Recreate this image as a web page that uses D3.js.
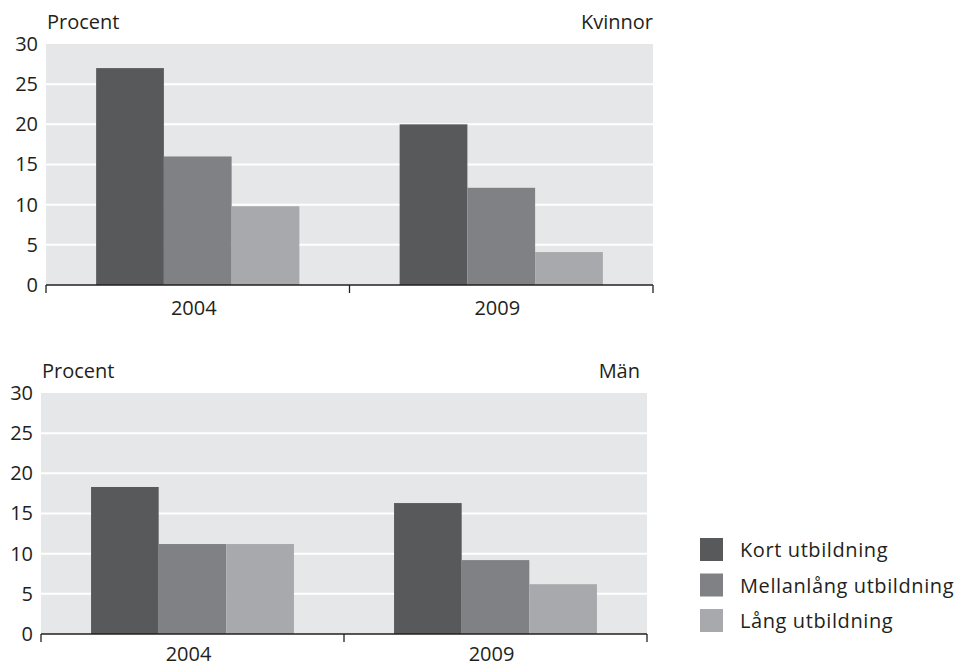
<!DOCTYPE html>
<html><head><meta charset="utf-8">
<script src="https://cdn.jsdelivr.net/npm/d3@7"></script>
<style>
body{margin:0;background:#fff;}
svg text{font-family:"Open Sans","Noto Sans",sans-serif;fill:#231f20;}
</style></head>
<body>
<svg id="c" width="960" height="667"></svg>
<script>
const years = ["2004", "2009"];
const series = ["Kort utbildning", "Mellanlång utbildning", "Lång utbildning"];
const colors = ["#58595b", "#808184", "#a7a9ac"];
const kvinnor = [[27, 16, 9.8], [20, 12.1, 4.1]];
const man = [[18.3, 11.2, 11.2], [16.3, 9.2, 6.2]];
const yTicks = [0, 5, 10, 15, 20, 25, 30];

const svg = d3.select("#c");
const FS = "20px";

function panel(cfg) {
  const g = svg.append("g");
  const x0 = d3.scaleBand().domain(years).range([cfg.left, cfg.right]).padding(0);
  const x1 = d3.scaleBand().domain(series).range([0, x0.bandwidth()]).paddingInner(0).paddingOuter(0.74);
  const y = d3.scaleLinear().domain([0, 30]).range([cfg.bottom, cfg.top]);

  g.append("rect").attr("x", cfg.left).attr("y", cfg.top)
    .attr("width", cfg.right - cfg.left).attr("height", cfg.bottom - cfg.top)
    .attr("fill", "#e6e7e8");
  g.selectAll("line.grid").data(yTicks.filter(t => t > 0 && t < 30)).enter().append("line")
    .attr("x1", cfg.left).attr("x2", cfg.right)
    .attr("y1", d => y(d)).attr("y2", d => y(d))
    .attr("stroke", "#fff").attr("stroke-width", 2);

  const grp = g.selectAll("g.yr").data(years).enter().append("g")
    .attr("transform", d => `translate(${x0(d)},0)`);
  grp.selectAll("rect").data((d, i) => cfg.data[i].map((v, j) => ({v, s: series[j], c: colors[j]})))
    .enter().append("rect")
    .attr("x", d => x1(d.s)).attr("width", x1.bandwidth())
    .attr("y", d => y(d.v)).attr("height", d => y(0) - y(d.v))
    .attr("fill", d => d.c);

  const ya = g.append("g").attr("transform", `translate(${cfg.left},0)`)
    .call(d3.axisLeft(y).tickValues(yTicks).tickSize(0).tickPadding(8));
  ya.select(".domain").remove();
  ya.selectAll("text").style("font-size", FS).style("fill", "#231f20")
    .style("font-family", '"Open Sans","Noto Sans",sans-serif');

  g.append("line").attr("x1", cfg.left).attr("x2", cfg.right)
    .attr("y1", cfg.bottom).attr("y2", cfg.bottom)
    .attr("stroke", "#231f20").attr("stroke-width", 1.5);
  const bounds = years.map(d => x0(d)).concat([cfg.right]);
  g.selectAll("line.tk").data(bounds).enter().append("line")
    .attr("x1", d => d).attr("x2", d => d)
    .attr("y1", cfg.bottom).attr("y2", cfg.bottom + 8)
    .attr("stroke", "#231f20").attr("stroke-width", 1.3);
  g.selectAll("text.yr").data(years).enter().append("text")
    .attr("x", d => x0(d) + x0.bandwidth() / 2 - 4)
    .attr("y", cfg.bottom + cfg.yearDy)
    .attr("text-anchor", "middle").style("font-size", FS).text(d => d);

  g.append("text").attr("x", cfg.left + 1).attr("y", cfg.top - 15)
    .style("font-size", FS).text("Procent");
  g.append("text").attr("x", cfg.titleX).attr("y", cfg.top - 15)
    .attr("text-anchor", "end").style("font-size", FS).text(cfg.title);
}

panel({left: 46, right: 653, top: 44, bottom: 285, data: kvinnor, title: "Kvinnor", titleX: 653, yearDy: 30});
panel({left: 41, right: 647, top: 393, bottom: 634, data: man, title: "Män", titleX: 640, yearDy: 27});

const leg = svg.append("g").selectAll("g").data(series).enter().append("g")
  .attr("transform", (d, i) => `translate(700,${538 + i * 35.5})`);
leg.append("rect").attr("width", 23).attr("height", 23).attr("fill", (d, i) => colors[i]);
leg.append("text").attr("x", 40).attr("y", 19).style("font-size", FS)
  .style("letter-spacing", "0.6px").text(d => d);
</script>
</body></html>
